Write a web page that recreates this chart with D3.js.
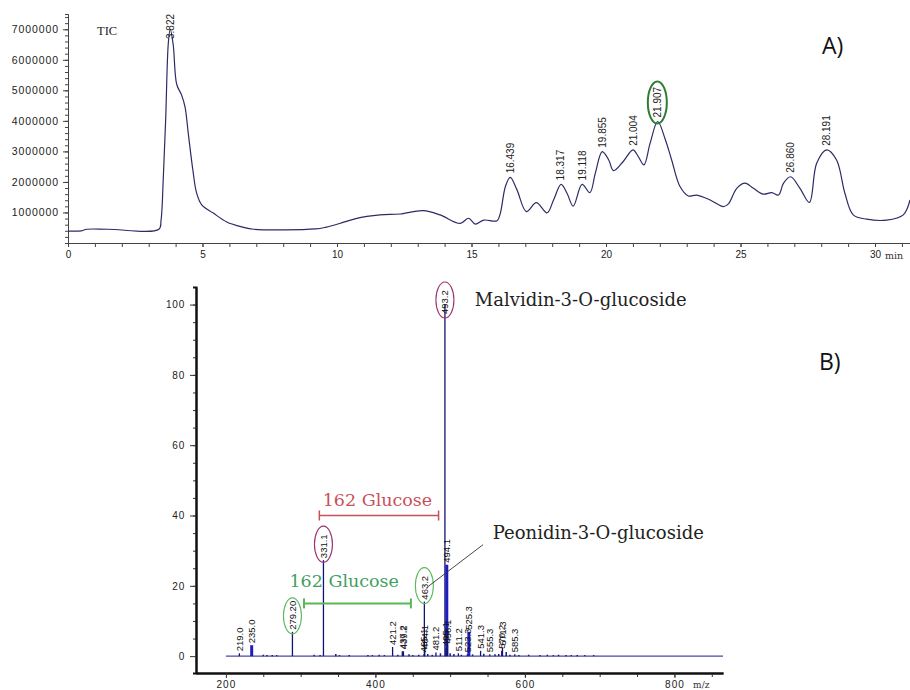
<!DOCTYPE html>
<html>
<head>
<meta charset="utf-8">
<script src="https://cdn.jsdelivr.net/npm/d3@7"></script>
<style>
  body { margin: 0; background: #fff; }
  svg { display: block; }
  .axis text { font-family: "Liberation Sans", Arial, sans-serif; fill: #222; }
</style>
</head>
<body>
<svg id="canvas"></svg>
<script>
// ---- A) total ion chromatogram (time in min, intensity in counts) ----
const ticTime = [0, 0.5, 0.7, 1.5, 3.38, 3.46, 3.54, 3.63, 3.73, 3.8, 3.91, 4.04, 4.22, 4.35, 4.47, 4.64, 4.78, 4.97,
  5.4, 5.9, 6.5, 6.9, 9.2, 9.6, 10.1, 10.7, 11.6, 12.35, 13.2, 13.83, 14.58, 14.89, 15.14, 15.45, 15.95, 16.07,
  16.26, 16.44, 16.69, 17.04, 17.41, 17.81, 18.05, 18.33, 18.55, 18.78, 19.11, 19.4, 19.6, 19.86, 20.1, 20.28,
  20.64, 21.0, 21.2, 21.41, 21.64, 21.92, 22.2, 22.44, 22.75, 23.06, 23.37, 23.87, 24.36, 24.55, 24.86, 25.17,
  25.48, 25.85, 26.16, 26.41, 26.6, 26.86, 27.21, 27.56, 27.83, 28.2, 28.57, 28.88, 29.19, 29.69, 30.43, 31.05, 31.3];
const ticValue = [0.39e6, 0.40e6, 0.45e6, 0.45e6, 0.45e6, 0.75e6, 2.07e6, 4.03e6, 6.56e6, 7.0e6, 6.5e6, 5.2e6, 4.85e6,
  4.46e6, 3.6e6, 2.4e6, 1.64e6, 1.25e6, 0.98e6, 0.69e6, 0.52e6, 0.45e6, 0.46e6, 0.52e6, 0.64e6, 0.8e6, 0.92e6,
  0.95e6, 1.06e6, 0.92e6, 0.64e6, 0.81e6, 0.62e6, 0.75e6, 0.73e6, 0.97e6, 1.85e6, 2.15e6, 1.74e6, 1.03e6, 1.32e6,
  0.99e6, 1.41e6, 1.92e6, 1.63e6, 1.21e6, 1.92e6, 1.65e6, 2.28e6, 2.99e6, 2.72e6, 2.37e6, 2.67e6, 3.05e6, 2.83e6,
  2.56e6, 3.27e6, 3.98e6, 3.4e6, 2.72e6, 1.85e6, 1.54e6, 1.57e6, 1.41e6, 1.19e6, 1.28e6, 1.79e6, 1.96e6, 1.79e6,
  1.6e6, 1.65e6, 1.57e6, 1.96e6, 2.17e6, 1.79e6, 1.33e6, 2.61e6, 3.05e6, 2.72e6, 1.63e6, 0.92e6, 0.78e6, 0.75e6,
  0.92e6, 1.41e6];
const peakTimes = [3.822, 16.439, 18.317, 19.118, 19.855, 21.004, 21.907, 26.860, 28.191];
const peakHeights = [7.0e6, 2.15e6, 1.92e6, 1.92e6, 2.99e6, 3.05e6, 3.98e6, 2.17e6, 3.05e6];
const circledPeak = 21.907;
const ticYTicks = [1e6, 2e6, 3e6, 4e6, 5e6, 6e6, 7e6];
const ticXTicks = [0, 5, 10, 15, 20, 25, 30];

// ---- B) MS/MS spectrum (m/z, relative intensity %) ----
const msLabels = ["219.0", "235.0", "279.20", "331.1", "421.2", "437.2", "439.2", "463.2", "465.1", "464.1",
  "481.2", "493.2", "494.1", "495.1", "496.1", "511.2", "523.3", "525.3", "541.3", "555.3", "570.2", "571.3", "585.3"];
const msMz = [218, 234.5, 289, 330.5, 423, 436, 437.5, 465.5, 465, 466, 481, 493, 495.5, 494.5, 496.5, 511,
  523, 525, 540.7, 553, 569, 570, 586.5];
const msIntensity = [0.8, 3.1, 6.9, 27.3, 2.6, 1.4, 1.4, 15.5, 0.5, 1.5, 1.0, 100, 26, 2.3, 3.0, 0.8, 0.5, 6.9,
  1.5, 0.5, 1.5, 2.5, 0.5];
const boldPeaks = ["235.0", "494.1", "525.3"];
const redCircled = ["331.1", "493.2"];
const greenCircled = ["279.20", "463.2"];
const noiseMz = [250, 255, 262, 268, 318, 326, 347, 352, 365, 390, 396, 405, 412, 430, 445, 450, 458, 470, 476,
  487, 500, 505, 515, 530, 545, 560, 565, 575, 580, 592, 605, 620, 630, 638, 645, 655, 662, 670, 680, 692];
const noiseInt = [0.4, 0.3, 0.3, 0.3, 0.4, 0.3, 0.6, 0.3, 0.3, 0.3, 0.3, 0.4, 0.3, 0.4, 0.5, 0.3, 0.4, 0.6, 0.4,
  0.8, 0.8, 0.6, 0.4, 0.5, 0.7, 0.5, 0.6, 1.2, 0.4, 0.3, 0.4, 0.3, 0.4, 0.3, 0.4, 0.3, 0.3, 0.3, 0.3, 0.3];
const msYTicks = [0, 20, 40, 60, 80, 100];
const msXTicks = [200, 400, 600, 800];

const width = 910, height = 690;
const svg = d3.select("#canvas").attr("width", width).attr("height", height);
svg.append("rect").attr("width", width).attr("height", height).attr("fill", "#fff");

const sans = "'Liberation Sans', Arial, sans-serif";
const serif = "'DejaVu Serif', 'Liberation Serif', serif";

// ================= A =================
const xT = d3.scaleLinear().domain([0, 31.3]).range([68, 910]);
const yT = d3.scaleLinear().domain([0, 7.5e6]).range([243, 14]);

const gTop = svg.append("g");

gTop.append("g").attr("class", "axis")
  .attr("transform", "translate(68,0)")
  .call(d3.axisLeft(yT).tickValues(d3.range(2e5, 7.5e6, 2e5)).tickSize(3).tickFormat(""));
gTop.append("g").attr("class", "axis")
  .attr("transform", "translate(68,0)")
  .call(d3.axisLeft(yT).tickValues(ticYTicks).tickSize(5).tickSizeOuter(0).tickPadding(4).tickFormat(d3.format("d")))
  .selectAll("text").style("font-size", "10.5px").style("letter-spacing", "0.9px");

gTop.append("g").attr("class", "axis")
  .attr("transform", "translate(0,243)")
  .call(d3.axisBottom(xT).tickValues(d3.range(0, 32, 1)).tickSize(4).tickSizeOuter(0).tickFormat(""));
gTop.append("g").attr("class", "axis")
  .attr("transform", "translate(0,243)")
  .call(d3.axisBottom(xT).tickValues(ticXTicks).tickSize(4).tickSizeOuter(0).tickPadding(4))
  .selectAll("text").style("font-size", "10px");
gTop.selectAll(".axis path, .axis line").attr("stroke", "#444");

gTop.append("text").attr("x", xT(30) + 10).attr("y", 259)
  .attr("font-family", serif).attr("font-size", 9.5).attr("fill", "#333").text("min");
gTop.append("text").attr("x", 97).attr("y", 35)
  .attr("font-family", "'Liberation Serif', serif").attr("font-size", 12.5).attr("fill", "#222").text("TIC");

const ticLine = d3.line()
  .x((d, i) => xT(ticTime[i]))
  .y((d, i) => yT(ticValue[i]))
  .curve(d3.curveCatmullRom.alpha(0.5));
gTop.append("path").datum(ticTime).attr("d", ticLine)
  .attr("fill", "none").attr("stroke", "#2b2b66").attr("stroke-width", 1.2);

peakTimes.forEach((t, i) => {
  const px = xT(t);
  const bottom = Math.max(yT(peakHeights[i]) - 4, yT.range()[1] + 25);
  gTop.append("text")
    .attr("transform", `translate(${px + 3.5},${bottom}) rotate(-90)`)
    .attr("font-family", sans).attr("font-size", 10).attr("fill", "#222")
    .text(t.toFixed(3));
  if (t === circledPeak) {
    gTop.append("ellipse").attr("cx", px).attr("cy", bottom - 15)
      .attr("rx", 9.5).attr("ry", 21)
      .attr("fill", "none").attr("stroke", "#2e7d32").attr("stroke-width", 2);
  }
});

svg.append("text").attr("x", 822).attr("y", 54)
  .attr("font-family", "'Open Sans', sans-serif").attr("font-size", 23).attr("fill", "#111").text("A)");

// ================= B =================
const xB = d3.scaleLinear().domain([160, 865]).range([196, 723]);
const yB = d3.scaleLinear().domain([-4.8, 105]).range([673, 287]);
const gBot = svg.append("g");

gBot.append("g").attr("class", "axis")
  .attr("transform", "translate(196,0)")
  .call(d3.axisLeft(yB).tickValues(d3.range(5, 105, 5)).tickSize(3).tickFormat(""));
gBot.append("g").attr("class", "axis")
  .attr("transform", "translate(196,0)")
  .call(d3.axisLeft(yB).tickValues(msYTicks).tickSize(6).tickSizeOuter(0).tickPadding(5))
  .selectAll("text").style("font-size", "10px").style("letter-spacing", "0.8px");
gBot.append("g").attr("class", "axis")
  .attr("transform", "translate(0,673)")
  .call(d3.axisBottom(xB).tickValues(d3.range(250, 900, 50)).tickSize(4).tickSizeOuter(0).tickFormat(""));
gBot.append("g").attr("class", "axis")
  .attr("transform", "translate(0,673)")
  .call(d3.axisBottom(xB).tickValues(msXTicks).tickSize(5).tickSizeOuter(0).tickPadding(3))
  .selectAll("text").style("font-size", "10px").style("letter-spacing", "1px");
gBot.selectAll(".axis path").attr("stroke", "#111").attr("stroke-width", 2);
gBot.selectAll(".axis line").attr("stroke", "#333");

gBot.append("text").attr("x", xB(825)).attr("y", 688)
  .attr("font-family", serif).attr("font-size", 9).attr("fill", "#333").text("m/z");

// baseline
gBot.append("line")
  .attr("x1", xB(200)).attr("x2", xB(865)).attr("y1", yB(0)).attr("y2", yB(0))
  .attr("stroke", "#4848a8").attr("stroke-width", 1.3);

// noise sticks
gBot.selectAll(".noise").data(noiseMz).enter().append("line")
  .attr("x1", d => xB(d)).attr("x2", d => xB(d))
  .attr("y1", yB(0)).attr("y2", (d, i) => yB(noiseInt[i]))
  .attr("stroke", "#1a1a80").attr("stroke-width", 1.5);

// labelled sticks
msLabels.forEach((lab, i) => {
  const bold = boldPeaks.includes(lab);
  gBot.append("line")
    .attr("x1", xB(msMz[i])).attr("x2", xB(msMz[i]))
    .attr("y1", yB(0)).attr("y2", yB(msIntensity[i]))
    .attr("stroke", bold ? "#1c1cc0" : "#14146e")
    .attr("stroke-width", bold ? 3 : 1.3);
});
msLabels.forEach((lab, i) => {
  const px = xB(msMz[i]);
  const bottom = Math.max(yB(msIntensity[i]) - 2, yB.range()[1] + 27);
  gBot.append("text")
    .attr("transform", `translate(${px + 3.3},${bottom}) rotate(-90)`)
    .attr("font-family", sans).attr("font-size", 9.5).attr("fill", "#111")
    .text(lab);
  const col = redCircled.includes(lab) ? "#9a3070" : greenCircled.includes(lab) ? "#5cb85c" : null;
  if (col) {
    gBot.append("ellipse").attr("cx", px).attr("cy", bottom - 14)
      .attr("rx", 9).attr("ry", 18)
      .attr("fill", "none").attr("stroke", col).attr("stroke-width", 1.1);
  }
});

// glucose loss brackets
function bracket(x1, x2, v, color, w) {
  const y = yB(v);
  gBot.append("line").attr("x1", xB(x1)).attr("x2", xB(x2)).attr("y1", y).attr("y2", y)
    .attr("stroke", color).attr("stroke-width", w);
  [x1, x2].forEach(m => gBot.append("line").attr("x1", xB(m)).attr("x2", xB(m))
    .attr("y1", y - 5).attr("y2", y + 5).attr("stroke", color).attr("stroke-width", w));
}
bracket(325, 484.5, 40, "#c9505a", 1.5);
bracket(304.5, 447.5, 15, "#58b858", 2);

gBot.append("text").attr("x", xB(329.5)).attr("y", yB(42.6))
  .attr("font-family", serif).attr("font-size", 17.5).attr("fill", "#c9505a").text("162 Glucose");
gBot.append("text").attr("x", xB(285)).attr("y", yB(19.6))
  .attr("font-family", serif).attr("font-size", 17.5).attr("fill", "#3f9f5f").text("162 Glucose");

gBot.append("text").attr("x", xB(533)).attr("y", yB(99.5))
  .attr("font-family", serif).attr("font-size", 18).attr("fill", "#222").text("Malvidin-3-O-glucoside");
gBot.append("text").attr("x", xB(557)).attr("y", yB(33.3))
  .attr("font-family", serif).attr("font-size", 18).attr("fill", "#222").text("Peonidin-3-O-glucoside");
gBot.append("line")
  .attr("x1", xB(544)).attr("y1", yB(31.7)).attr("x2", xB(470.5)).attr("y2", yB(19.8))
  .attr("stroke", "#333").attr("stroke-width", 0.9);

svg.append("text").attr("x", 819).attr("y", 370)
  .attr("font-family", "'Open Sans', sans-serif").attr("font-size", 23).attr("fill", "#111").text("B)");
</script>
</body>
</html>
